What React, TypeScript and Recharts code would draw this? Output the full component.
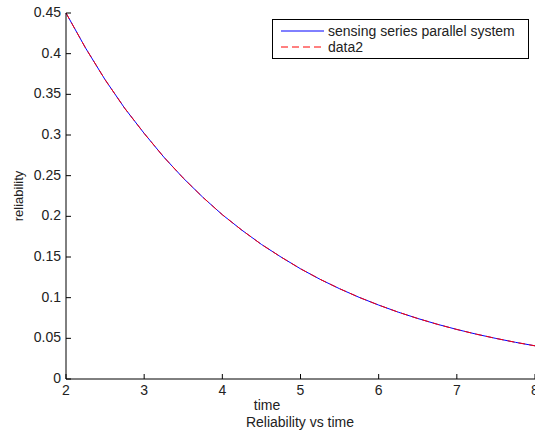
import React from 'react';
import { LineChart, Line, XAxis, YAxis, Legend } from 'recharts';

const timeValues = [2, 2.25, 2.5, 2.75, 3, 3.25, 3.5, 3.75, 4, 4.25, 4.5, 4.75, 5, 5.25, 5.5, 5.75, 6, 6.25, 6.5, 6.75, 7, 7.25, 7.5, 7.75, 8];
const sensingSeries = [0.450, 0.407, 0.368, 0.333, 0.302, 0.273, 0.247, 0.2235, 0.202, 0.183, 0.1655, 0.150, 0.1355, 0.1226, 0.111, 0.1004, 0.0909, 0.0822, 0.0744, 0.0673, 0.0609, 0.0551, 0.0499, 0.0451, 0.0408];
const data2Series = [0.450, 0.407, 0.368, 0.333, 0.302, 0.273, 0.247, 0.2235, 0.202, 0.183, 0.1655, 0.150, 0.1355, 0.1226, 0.111, 0.1004, 0.0909, 0.0822, 0.0744, 0.0673, 0.0609, 0.0551, 0.0499, 0.0451, 0.0408];
const xTicks = [2, 3, 4, 5, 6, 7, 8];
const yTicks = [0, 0.05, 0.1, 0.15, 0.2, 0.25, 0.3, 0.35, 0.4, 0.45];
const yTickLabels = ['0', '0.05', '0.1', '0.15', '0.2', '0.25', '0.3', '0.35', '0.4', '0.45'];
const seriesNames = ['sensing series parallel system', 'data2'];

const data = timeValues.map((t, i) => ({ t, s1: sensingSeries[i], s2: data2Series[i] }));

const FONT = '"Liberation Sans", Arial, sans-serif';
const FS = 14;

const BottomTick = (props: any) => {
  const { x, y, payload } = props;
  return (
    <g>
      <line x1={x} x2={x} y1={y} y2={y - 5} stroke="#000" />
      <text x={x} y={y + 16} textAnchor="middle" fontFamily={FONT} fontSize={FS} fill="#222">{String(payload.value)}</text>
    </g>
  );
};

const TopTick = (props: any) => {
  const { x, y } = props;
  return <line x1={x} x2={x} y1={y} y2={y + 5} stroke="#000" />;
};

const LeftTick = (props: any) => {
  const { x, y, payload } = props;
  const idx = yTicks.indexOf(payload.value);
  return (
    <g>
      <line x1={x} x2={x + 5} y1={y} y2={y} stroke="#000" />
      <text x={x - 5} y={y + 4} textAnchor="end" fontFamily={FONT} fontSize={FS} fill="#222">{idx >= 0 ? yTickLabels[idx] : ''}</text>
    </g>
  );
};

const RightTick = (props: any) => {
  const { x, y } = props;
  return <line x1={x} x2={x - 5} y1={y} y2={y} stroke="#000" />;
};

const LegendBox = () => (
  <svg width={257} height={40} style={{ display: 'block' }}>
    <rect x={0.5} y={0.5} width={256} height={39} fill="#fff" stroke="#000" />
    <line x1={9} x2={52} y1={12} y2={12} stroke="#0000ff" />
    <text x={56} y={17} fontFamily={FONT} fontSize={FS} fill="#222">{seriesNames[0]}</text>
    <line x1={9} x2={52} y1={28} y2={28} stroke="#ff0000" strokeDasharray="7 4" />
    <text x={56} y={33} fontFamily={FONT} fontSize={FS} fill="#222">{seriesNames[1]}</text>
  </svg>
);

export default function App() {
  return (
    <div style={{ position: 'absolute', left: 0, top: 0, width: 535, height: 433, background: '#fff' }}>
      <LineChart width={535} height={433} data={data} margin={{ top: 13, right: 0, left: 0, bottom: 0 }}>
        <XAxis
          dataKey="t"
          type="number"
          domain={[2, 8]}
          ticks={xTicks}
          interval={0}
          height={54}
          tickSize={0}
          tickMargin={0}
          tickLine={false}
          axisLine={{ stroke: '#000' }}
          tick={<BottomTick />}
        />
        <XAxis
          xAxisId="top"
          orientation="top"
          dataKey="t"
          type="number"
          domain={[2, 8]}
          ticks={xTicks}
          interval={0}
          height={0}
          tickSize={0}
          tickMargin={0}
          tickLine={false}
          axisLine={{ stroke: '#000' }}
          tick={<TopTick />}
        />
        <YAxis
          type="number"
          domain={[0, 0.45]}
          ticks={yTicks}
          interval={0}
          width={66}
          tickSize={0}
          tickMargin={0}
          tickLine={false}
          axisLine={{ stroke: '#000' }}
          tick={<LeftTick />}
        />
        <YAxis
          yAxisId="right"
          orientation="right"
          type="number"
          domain={[0, 0.45]}
          ticks={yTicks}
          interval={0}
          width={0}
          tickSize={0}
          tickMargin={0}
          tickLine={false}
          axisLine={{ stroke: '#000' }}
          tick={<RightTick />}
        />
        <Line dataKey="s1" name={seriesNames[0]} stroke="#0000ff" strokeWidth={1} dot={false} isAnimationActive={false} type="linear" />
        <Line dataKey="s2" name={seriesNames[1]} stroke="#ff0000" strokeWidth={1} strokeDasharray="7 4" dot={false} isAnimationActive={false} type="linear" />
        <Legend
          layout="vertical"
          align="center"
          verticalAlign="middle"
          content={<LegendBox />}
          wrapperStyle={{ position: 'absolute', left: 272, top: 19, width: 257, height: 40 }}
        />
      </LineChart>
      <div style={{ position: 'absolute', left: 0, top: 0, width: 535, height: 433, pointerEvents: 'none' }}>
        <svg width={535} height={433}>
          <text x={20} y={196} transform="rotate(-90 20 196)" textAnchor="middle" dominantBaseline="middle" fontFamily={FONT} fontSize={13} fill="#222">reliability</text>
          <text x={267} y={410} textAnchor="middle" fontFamily={FONT} fontSize={FS} fill="#222">time</text>
          <text x={300} y={427} textAnchor="middle" fontFamily={FONT} fontSize={FS} fill="#222">Reliability vs time</text>
        </svg>
      </div>
    </div>
  );
}
